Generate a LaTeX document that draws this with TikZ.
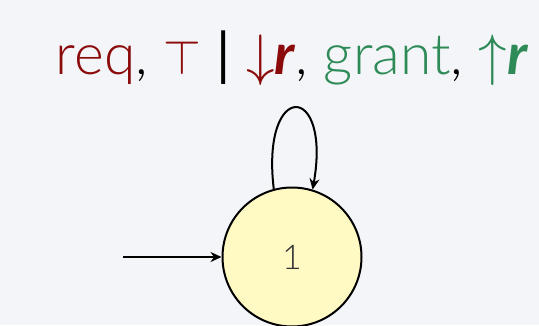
\RequirePackage{fix-cm}
\documentclass[tikz,border=0pt]{standalone}
\usepackage{xcolor}
\usepackage{amsmath,amssymb}
\usepackage{fontspec}
\setmainfont{Lato}[UprightFont={* Light},BoldFont={* Bold},ItalicFont={* Light Italic},BoldItalicFont={* Bold Italic}]
\newfontfamily\latoreg{Lato}
\usepackage{tikz}
\usetikzlibrary{arrows.meta,positioning,calc}
\definecolor{bgcol}{HTML}{F4F5F9}
\definecolor{inred}{HTML}{8B0A0A}
\definecolor{outgreen}{HTML}{2E8B57}
\definecolor{statefill}{HTML}{FFF9C4}
\begin{document}
\begin{tikzpicture}[x=1pt,y=-1pt,line join=round,
    state/.style={circle,draw=black,line width=2pt,fill=statefill,minimum size=139pt,inner sep=0pt,
      font=\fontsize{34}{36}\selectfont,text=black!80},
    trans/.style={line width=2pt,-{Stealth[length=11pt,width=10pt]}}]
      \fill[bgcol] (0,0) rectangle (539,325);
      \clip (0,0) rectangle (539,325);
      \node[state] (s) at (292,257) {1};
      \coordinate (init) at (123,257);
      \draw[trans] (init) -- (s.west);
      \draw[trans] (s.105) .. controls +(-13,-109) and +(19,-108) .. (s.73);
      \node[anchor=base,font=\fontsize{57}{62}\selectfont,inner sep=0pt] (lbl) at (292,74)
        {\textcolor{inred}{req}, \textcolor{inred}{\scalebox{0.85}{$\top$}} {\latoreg|} \textcolor{inred}{$\downarrow$\textbf{\textit{r}}}, \textcolor{outgreen}{grant}, \textcolor{outgreen}{$\uparrow$\textbf{\textit{r}}}};
    \end{tikzpicture}
\end{document}
